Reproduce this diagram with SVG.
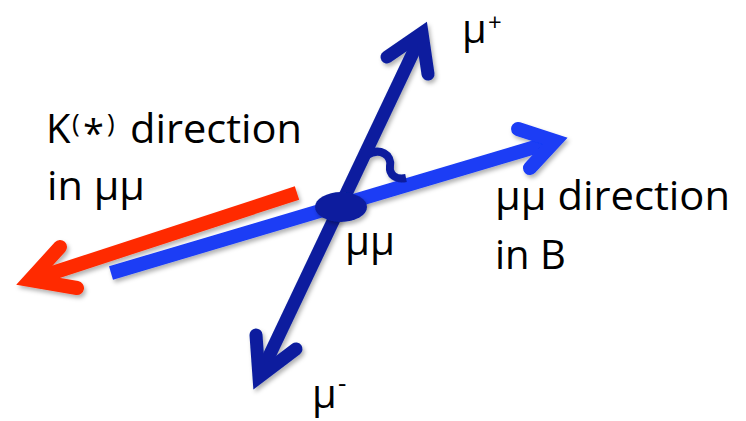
<svg xmlns="http://www.w3.org/2000/svg" width="746" height="421" viewBox="0 0 746 421">
<defs>
<filter id="sh" x="-10%" y="-10%" width="130%" height="130%">
<feDropShadow dx="2" dy="3" stdDeviation="2" flood-color="#000" flood-opacity="0.3"/>
</filter>
</defs>
<style>
.t{font-family:"Open Sans","Liberation Sans",sans-serif;font-size:40px;fill:#000}
.red{stroke:#ff2a00;stroke-width:14;fill:none}
.blue{stroke:#1a3cf5;stroke-width:14;fill:none}
.dark{stroke:#0a1f9e;stroke-width:13;fill:none}
.head{stroke-linecap:round;stroke-linejoin:miter;stroke-miterlimit:10}
</style>
<rect width="746" height="421" fill="#fff"/>
<g id="connectors" filter="url(#sh)">
<g id="kdir">
<line class="red" x1="297" y1="193" x2="34" y2="279"/>
<polyline class="red head" points="60,247 30,280 77,288"/>
</g>
<g id="mumudir">
<line class="blue" x1="111" y1="273" x2="552" y2="142"/>
<polyline class="blue head" points="518,129 555,141 530,168"/>
</g>
<g id="muons">
<line class="dark" x1="420" y1="38" x2="261" y2="373"/>
<polyline class="dark head" points="387,57 422,33 428,74"/>
<polyline class="dark head" points="256,335 259,377 296,349"/>
</g>
<path id="angle" d="M367,155 C380,147 392,155 390,166 C389,175 396,180 406,178" stroke="#0a1f9e" stroke-width="8" fill="none"/>
</g>
<g id="vertex" filter="url(#sh)">
<ellipse cx="341" cy="207" rx="26" ry="15" fill="#0a1f9e"/>
</g>
<g id="labels">
<text class="t" x="46" y="143">K</text>
<text class="t" x="72" y="132" style="font-size:26px">(</text>
<text class="t" x="83" y="147" style="font-size:38px">*</text>
<text class="t" x="107" y="132" style="font-size:26px">)</text>
<text class="t" x="130" y="143" textLength="172" lengthAdjust="spacingAndGlyphs">direction</text>
<text class="t" x="47" y="200" textLength="98" lengthAdjust="spacingAndGlyphs">in μμ</text>
<text class="t" x="495" y="210" textLength="235" lengthAdjust="spacingAndGlyphs">μμ direction</text>
<text class="t" x="495" y="269">in B</text>
<text class="t" x="345" y="255" textLength="50" lengthAdjust="spacingAndGlyphs">μμ</text>
<text class="t" x="462" y="43">μ</text>
<text class="t" x="488" y="31" style="font-size:24px">+</text>
<text class="t" x="312" y="408">μ</text>
<text class="t" x="338" y="392" style="font-size:26px">-</text>
</g>
</svg>
